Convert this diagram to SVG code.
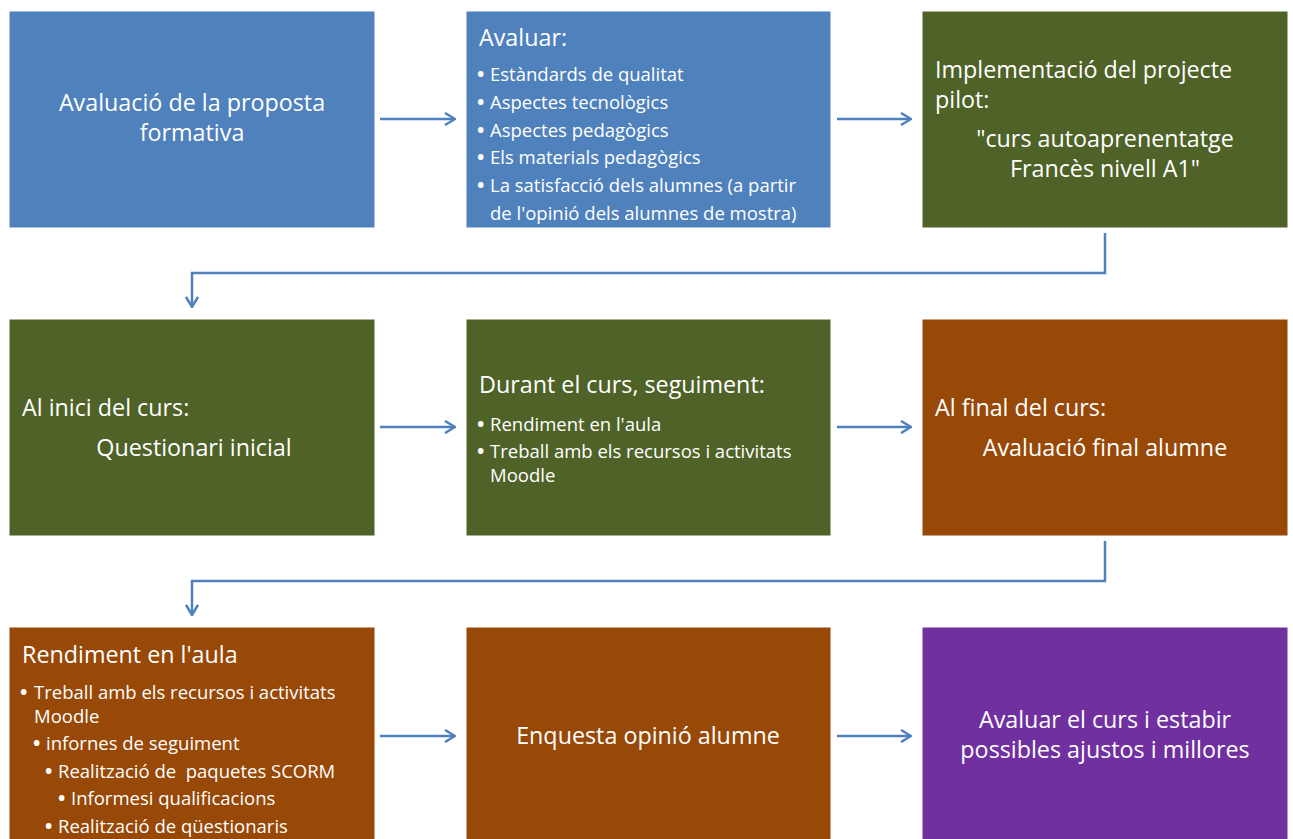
<svg xmlns="http://www.w3.org/2000/svg" width="1293" height="839" viewBox="0 0 1293 839">
<defs>
<style>
text{font-family:"Open Sans","Lato","Liberation Sans",sans-serif;fill:#ffffff}
.t{font-size:23.3px}
.s{font-size:18.5px}
.b{font-size:19.5px;font-weight:bold}
.c{text-anchor:middle}
.blue{fill:#4F81BD}
.green{fill:#4F6228}
.brown{fill:#984807}
.purple{fill:#7030A0}
.box{stroke:#ffffff;stroke-width:1}
.con{fill:none;stroke:#4F81BD;stroke-width:2.5}
</style>
<marker id="ah" viewBox="0 0 12 14" refX="11" refY="7" markerWidth="12" markerHeight="14" markerUnits="userSpaceOnUse" orient="auto">
<path d="M1,1 L11,7 L1,13" fill="none" stroke="#4F81BD" stroke-width="2.5"/>
</marker>
</defs>
<rect width="1293" height="839" fill="#ffffff"/>
<g id="connectors">
<line class="con" x1="380" y1="119" x2="455" y2="119" marker-end="url(#ah)"/>
<line class="con" x1="837" y1="119" x2="911" y2="119" marker-end="url(#ah)"/>
<polyline class="con" points="1105,233 1105,273 192,273 192,307" marker-end="url(#ah)"/>
<line class="con" x1="380" y1="427" x2="455" y2="427" marker-end="url(#ah)"/>
<line class="con" x1="837" y1="427" x2="911" y2="427" marker-end="url(#ah)"/>
<polyline class="con" points="1105,541 1105,581 192,581 192,615" marker-end="url(#ah)"/>
<line class="con" x1="380" y1="736" x2="455" y2="736" marker-end="url(#ah)"/>
<line class="con" x1="837" y1="736" x2="911" y2="736" marker-end="url(#ah)"/>
</g>
<g id="n1">
<rect class="box blue" x="9" y="11" width="366" height="217"/>
<text class="t c" x="192" y="111">Avaluació de la proposta</text>
<text class="t c" x="192" y="141">formativa</text>
</g>
<g id="n2">
<rect class="box blue" x="466" y="11" width="365" height="217"/>
<text class="t" x="479" y="46">Avaluar:</text>
<text class="s" x="477" y="81"><tspan class="b">•</tspan><tspan x="490">Estàndards de qualitat</tspan></text>
<text class="s" x="477" y="109"><tspan class="b">•</tspan><tspan x="490">Aspectes tecnològics</tspan></text>
<text class="s" x="477" y="137"><tspan class="b">•</tspan><tspan x="490">Aspectes pedagògics</tspan></text>
<text class="s" x="477" y="164"><tspan class="b">•</tspan><tspan x="490">Els materials pedagògics</tspan></text>
<text class="s" x="477" y="192"><tspan class="b">•</tspan><tspan x="490">La satisfacció dels alumnes (a partir</tspan></text>
<text class="s" x="490" y="220">de l'opinió dels alumnes de mostra)</text>
</g>
<g id="n3">
<rect class="box green" x="922" y="11" width="366" height="217"/>
<text class="t" x="935" y="78">Implementació del projecte</text>
<text class="t" x="935" y="108">pilot:</text>
<text class="t c" x="1105" y="147">"curs autoaprenentatge</text>
<text class="t c" x="1105" y="177">Francès nivell A1"</text>
</g>
<g id="n4">
<rect class="box green" x="9" y="319" width="366" height="217"/>
<text class="t" x="22" y="416">Al inici del curs:</text>
<text class="t c" x="194" y="456">Questionari inicial</text>
</g>
<g id="n5">
<rect class="box green" x="466" y="319" width="365" height="217"/>
<text class="t" x="479" y="393">Durant el curs, seguiment:</text>
<text class="s" x="477" y="431"><tspan class="b">•</tspan><tspan x="490">Rendiment en l'aula</tspan></text>
<text class="s" x="477" y="458"><tspan class="b">•</tspan><tspan x="490">Treball amb els recursos i activitats</tspan></text>
<text class="s" x="490" y="482">Moodle</text>
</g>
<g id="n6">
<rect class="box brown" x="922" y="319" width="366" height="217"/>
<text class="t" x="935" y="416">Al final del curs:</text>
<text class="t c" x="1105" y="456">Avaluació final alumne</text>
</g>
<g id="n7">
<rect class="box brown" x="9" y="627" width="366" height="220"/>
<text class="t" x="22" y="663">Rendiment en l'aula</text>
<text class="s" x="20" y="699"><tspan class="b">•</tspan><tspan x="34">Treball amb els recursos i activitats</tspan></text>
<text class="s" x="34" y="723">Moodle</text>
<text class="s" x="33" y="750"><tspan class="b">•</tspan><tspan x="46">infornes de seguiment</tspan></text>
<text class="s" x="45" y="778" xml:space="preserve"><tspan class="b">•</tspan><tspan x="58">Realització de  paquetes SCORM</tspan></text>
<text class="s" x="58" y="805"><tspan class="b">•</tspan><tspan x="71">Informesi qualificacions</tspan></text>
<text class="s" x="45" y="833"><tspan class="b">•</tspan><tspan x="58">Realització de qüestionaris</tspan></text>
</g>
<g id="n8">
<rect class="box brown" x="466" y="627" width="365" height="220"/>
<text class="t c" x="648" y="744">Enquesta opinió alumne</text>
</g>
<g id="n9">
<rect class="box purple" x="922" y="627" width="366" height="220"/>
<text class="t c" x="1105" y="728">Avaluar el curs i estabir</text>
<text class="t c" x="1105" y="758">possibles ajustos i millores</text>
</g>
</svg>
